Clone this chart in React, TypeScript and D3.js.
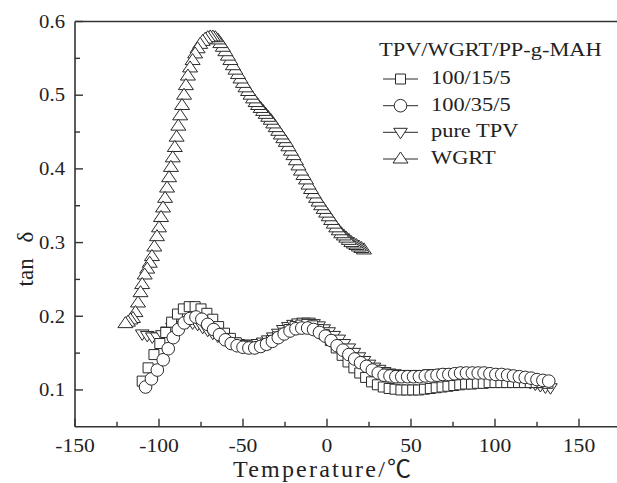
import React from 'react';
import * as d3 from 'd3';

const W = 617;
const H = 483;

const xDomain: [number, number] = [-150, 175];
const yDomain: [number, number] = [0.05, 0.6];
const xMajorTicks = [-150, -100, -50, 0, 50, 100, 150];
const xMinorTicks = [-125, -75, -25, 25, 75, 125];
const yMajorTicks = [0.1, 0.2, 0.3, 0.4, 0.5, 0.6];
const yMinorTicks = [0.15, 0.25, 0.35, 0.45, 0.55];

const legendTitle = 'TPV/WGRT/PP-g-MAH';
const seriesNames = ['100/15/5', '100/35/5', 'pure TPV', 'WGRT'];

// 100/15/5 (squares)
const s15: [number, number][] = [
  [-110, 0.112], [-106.5, 0.13], [-103, 0.148], [-99.5, 0.163], [-96, 0.178], [-92.5, 0.192],
  [-89, 0.203], [-85.5, 0.21], [-82, 0.213], [-78.5, 0.213], [-75, 0.21], [-71.5, 0.204],
  [-68, 0.196], [-64.5, 0.186], [-61, 0.177], [-57.5, 0.17], [-54, 0.164], [-50.5, 0.16],
  [-47, 0.158], [-43.5, 0.158], [-40, 0.159], [-36.5, 0.162], [-33, 0.167], [-29.5, 0.172],
  [-26, 0.177], [-22.5, 0.182], [-19, 0.186], [-15.5, 0.188], [-12, 0.189], [-8.5, 0.187],
  [-5, 0.182], [-1.5, 0.175], [2, 0.167], [5.5, 0.157], [9, 0.147], [12.5, 0.138],
  [16, 0.13], [19.5, 0.123], [23, 0.117], [26.5, 0.111], [30, 0.107], [33.5, 0.104],
  [37, 0.102], [40.5, 0.101], [44, 0.1], [47.5, 0.1], [51, 0.1], [54.5, 0.1],
  [58, 0.101], [61.5, 0.102], [65, 0.103], [68.5, 0.104], [72, 0.105], [75.5, 0.106],
  [79, 0.107], [82.5, 0.108], [86, 0.108], [89.5, 0.109], [93, 0.109], [96.5, 0.11],
  [100, 0.11], [103.5, 0.11], [107, 0.11], [110.5, 0.11], [114, 0.11], [117.5, 0.11],
  [121, 0.11], [124.5, 0.11], [128, 0.11], [131.5, 0.109],
];

// 100/35/5 (circles)
const s35: [number, number][] = [
  [-108, 0.104], [-104.5, 0.115], [-101, 0.127], [-97.5, 0.141], [-94.5, 0.156], [-91.5, 0.171],
  [-88.5, 0.182], [-85, 0.191], [-81.5, 0.197], [-78, 0.199], [-74.5, 0.196], [-71, 0.189],
  [-67.5, 0.182], [-64, 0.175], [-60.5, 0.168], [-57, 0.163], [-53.5, 0.16], [-50, 0.158],
  [-46.5, 0.157], [-43, 0.157], [-39.5, 0.159], [-36, 0.162], [-32.5, 0.166], [-29, 0.171],
  [-25.5, 0.176], [-22, 0.18], [-18.5, 0.183], [-15, 0.184], [-11.5, 0.184], [-8, 0.182],
  [-4.5, 0.178], [-1, 0.173], [2.5, 0.167], [6, 0.16], [9.5, 0.154], [13, 0.148],
  [16.5, 0.142], [20, 0.137], [23.5, 0.132], [27, 0.127], [30.5, 0.123], [34, 0.12],
  [37.5, 0.119], [41, 0.118], [44.5, 0.118], [48, 0.118], [51.5, 0.118], [55, 0.118],
  [58.5, 0.119], [62, 0.119], [65.5, 0.12], [69, 0.121], [72.5, 0.121], [76, 0.122],
  [79.5, 0.123], [83, 0.123], [86.5, 0.123], [90, 0.123], [93.5, 0.123], [97, 0.122],
  [100.5, 0.121], [104, 0.121], [107.5, 0.12], [111, 0.119], [114.5, 0.118], [118, 0.117],
  [121.5, 0.116], [125, 0.114], [128.5, 0.113], [132, 0.112],
];

// pure TPV (down triangles)
const pureTPV: [number, number][] = [
  [-110, 0.176], [-107, 0.174], [-104, 0.172], [-101, 0.172], [-98, 0.175], [-95, 0.18],
  [-92, 0.185], [-89, 0.189], [-86, 0.191], [-83, 0.192], [-80, 0.191], [-77, 0.189],
  [-74, 0.185], [-71, 0.181], [-68, 0.177], [-65, 0.173], [-62, 0.17], [-59, 0.167],
  [-56, 0.165], [-53, 0.163], [-50, 0.162], [-47, 0.162], [-44, 0.162], [-41, 0.163],
  [-38, 0.165], [-35, 0.168], [-32, 0.172], [-29, 0.177], [-26, 0.182], [-23, 0.186],
  [-20, 0.189], [-17, 0.191], [-14, 0.192], [-11, 0.192], [-8, 0.19], [-5, 0.187],
  [-2, 0.183], [1, 0.179], [4, 0.174], [7, 0.169], [10, 0.163], [13, 0.157],
  [16, 0.151], [19, 0.145], [22, 0.14], [25, 0.135], [28, 0.131], [31, 0.128],
  [34, 0.125], [37, 0.123], [40, 0.122], [43, 0.121], [46, 0.121], [49, 0.121],
  [52, 0.121], [55, 0.121], [58, 0.121], [61, 0.122], [64, 0.122], [67, 0.122],
  [70, 0.123], [73, 0.123], [76, 0.123], [79, 0.123], [82, 0.123], [85, 0.123],
  [88, 0.123], [91, 0.122], [94, 0.122], [97, 0.121], [100, 0.12], [103, 0.119],
  [106, 0.118], [109, 0.117], [112, 0.116], [115, 0.114], [118, 0.112], [121, 0.11],
  [124, 0.108], [127, 0.106], [130, 0.104], [133, 0.103],
];

// WGRT (up triangles)
const wgrt: [number, number][] = [
  [-120, 0.19], [-118.5, 0.192], [-117, 0.195], [-115.5, 0.197], [-114, 0.205], [-112.5, 0.218],
  [-111, 0.232], [-110, 0.243], [-108.5, 0.256], [-107, 0.264], [-105.5, 0.272], [-104.2, 0.281],
  [-102.8, 0.294], [-101.2, 0.308], [-100, 0.32], [-98.8, 0.334], [-97.6, 0.347], [-96.4, 0.36],
  [-95.2, 0.374], [-94, 0.388], [-92.9, 0.402], [-91.8, 0.415], [-90.6, 0.429], [-89.5, 0.443],
  [-88.5, 0.458], [-87.4, 0.472], [-86.3, 0.486], [-85.1, 0.5], [-84, 0.513], [-82.8, 0.526],
  [-81.5, 0.537], [-80, 0.547], [-78.5, 0.556], [-77, 0.563], [-75.5, 0.569], [-74, 0.573],
  [-72.5, 0.576], [-71, 0.578], [-69.5, 0.579], [-68, 0.579], [-66.5, 0.578], [-65, 0.575],
  [-63.5, 0.57], [-62, 0.565], [-60.5, 0.559], [-59, 0.553], [-57.5, 0.547], [-56, 0.54],
  [-54.5, 0.534], [-53, 0.528], [-51.5, 0.522], [-50, 0.516], [-48.5, 0.51], [-47, 0.505],
  [-45.5, 0.5], [-44, 0.495], [-42.5, 0.49], [-41, 0.486], [-39.5, 0.482], [-38, 0.478],
  [-36.5, 0.474], [-35, 0.47], [-33.5, 0.466], [-32, 0.461], [-30.5, 0.456], [-29, 0.451],
  [-27.5, 0.446], [-26, 0.441], [-24.5, 0.436], [-23, 0.43], [-21.5, 0.424], [-20, 0.418],
  [-18.5, 0.411], [-17, 0.404], [-15.5, 0.397], [-14, 0.391], [-12.5, 0.385], [-11, 0.378],
  [-9.5, 0.372], [-8, 0.366], [-6.5, 0.36], [-5, 0.355], [-3.5, 0.35], [-2, 0.345],
  [-0.5, 0.34], [1, 0.335], [2.5, 0.33], [4, 0.325], [5.5, 0.32], [7, 0.316],
  [8.5, 0.312], [10, 0.309], [11.5, 0.306], [13, 0.303], [14.5, 0.3], [16, 0.298],
  [17.5, 0.296], [19, 0.294], [20.5, 0.292], [22, 0.29],
];

const STROKE = '#2a2a2a';
const SERIF = "'Liberation Serif', 'Times New Roman', serif";
const TITLE_FONT = "'Liberation Serif', 'Noto Sans CJK SC', serif";

type Shape = 'square' | 'circle' | 'down' | 'up';

function markerPath(shape: Shape, cx: number, cy: number): string {
  const p = d3.path();
  if (shape === 'square') {
    p.rect(cx - 5, cy - 5, 10, 10);
  } else if (shape === 'circle') {
    p.moveTo(cx + 6.3, cy);
    p.arc(cx, cy, 6.3, 0, Math.PI * 2);
  } else if (shape === 'down') {
    p.moveTo(cx - 6.8, cy - 4);
    p.lineTo(cx + 6.8, cy - 4);
    p.lineTo(cx, cy + 6.5);
    p.closePath();
  } else {
    p.moveTo(cx, cy - 7);
    p.lineTo(cx + 7.5, cy + 4);
    p.lineTo(cx - 7.5, cy + 4);
    p.closePath();
  }
  return p.toString();
}

export default function App() {
  const x = d3.scaleLinear().domain(xDomain).range([75, 621]);
  const y = d3.scaleLinear().domain(yDomain).range([426.8, 21.5]);
  const x0 = x(xDomain[0]);
  const x1 = x(xDomain[1]);
  const y0 = y(yDomain[0]);
  const y1 = y(yDomain[1]);

  const series: { data: [number, number][]; shape: Shape; reverse?: boolean }[] = [
    { data: pureTPV, shape: 'down' },
    { data: s15, shape: 'square' },
    { data: s35, shape: 'circle' },
    { data: wgrt, shape: 'up', reverse: true },
  ];

  const legendShapes: Shape[] = ['square', 'circle', 'down', 'up'];
  const legendBase = [84, 110.7, 137.3, 164];

  return (
    <svg
      width={W}
      height={H}
      viewBox={`0 0 ${W} ${H}`}
      style={{ position: 'absolute', left: 0, top: 0, background: '#fff' }}
    >
      <rect x={0} y={0} width={W} height={H} fill="#fff" />
      {series.map((s, si) => {
        const pts = s.reverse ? [...s.data].reverse() : s.data;
        return (
          <g key={si}>
            {pts.map((d, i) => (
              <path
                key={i}
                d={markerPath(s.shape, x(d[0]), y(d[1]))}
                fill="#fff"
                stroke={STROKE}
                strokeWidth={1}
              />
            ))}
          </g>
        );
      })}
      <g stroke="#333" strokeWidth={1.6} fill="none">
        <line x1={x0} y1={y1} x2={x1} y2={y1} />
        <line x1={x0} y1={y0} x2={x1} y2={y0} />
        <line x1={x0} y1={y0} x2={x0} y2={y1} />
        <line x1={x1} y1={y0} x2={x1} y2={y1} />
      </g>
      <g stroke="#333" strokeWidth={1.4}>
        {xMajorTicks.map((t) => (
          <line key={'xM' + t} x1={x(t)} x2={x(t)} y1={y0} y2={y0 - 8} />
        ))}
        {xMinorTicks.map((t) => (
          <line key={'xm' + t} x1={x(t)} x2={x(t)} y1={y0} y2={y0 - 5} />
        ))}
        {yMajorTicks.map((t) => (
          <line key={'yM' + t} x1={x0} x2={x0 + 8} y1={y(t)} y2={y(t)} />
        ))}
        {yMinorTicks.map((t) => (
          <line key={'ym' + t} x1={x0} x2={x0 + 5} y1={y(t)} y2={y(t)} />
        ))}
      </g>
      <g style={{ fontFamily: SERIF }} fontSize={18.5} fill="#222">
        {xMajorTicks.map((t) => (
          <text
            key={'xl' + t}
            transform={`translate(${x(t)},452) scale(1.17,1)`}
            textAnchor="middle"
          >
            {String(t)}
          </text>
        ))}
        {yMajorTicks.map((t) => (
          <text
            key={'yl' + t}
            transform={`translate(65,${y(t) + 6.3}) scale(1.12,1)`}
            textAnchor="end"
          >
            {d3.format('.1f')(t)}
          </text>
        ))}
      </g>
      <text
        x={322}
        y={477}
        textAnchor="middle"
        style={{ fontFamily: TITLE_FONT }}
        fontSize={24}
        fill="#222"
        textLength={178}
        lengthAdjust="spacing"
      >
        Temperature/℃
      </text>
      <text
        transform="translate(33,259) rotate(-90)"
        textAnchor="middle"
        style={{ fontFamily: SERIF }}
        fontSize={23}
        fill="#222"
      >
        tan<tspan dx={16}>δ</tspan>
      </text>
      <g style={{ fontFamily: SERIF }} fontSize={19} fill="#222">
        <text transform="translate(379,56) scale(1.18,1)">{legendTitle}</text>
        {seriesNames.map((name, i) => (
          <g key={name}>
            <line
              x1={383}
              x2={418}
              y1={legendBase[i] - 5}
              y2={legendBase[i] - 5}
              stroke={STROKE}
              strokeWidth={1}
            />
            <path
              d={markerPath(legendShapes[i], 400.5, legendBase[i] - 5)}
              fill="#fff"
              stroke={STROKE}
              strokeWidth={1}
            />
            <text transform={`translate(431,${legendBase[i]}) scale(1.18,1)`}>{name}</text>
          </g>
        ))}
      </g>
    </svg>
  );
}
